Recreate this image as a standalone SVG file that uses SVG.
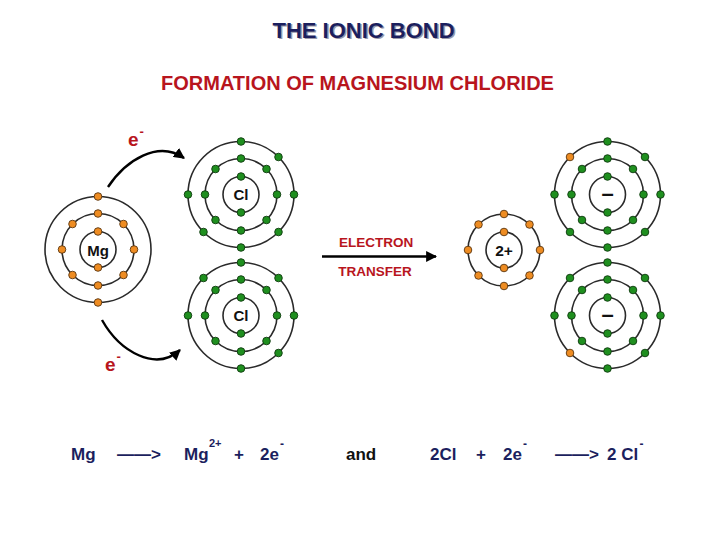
<svg xmlns="http://www.w3.org/2000/svg" xmlns:xlink="http://www.w3.org/1999/xlink" width="728" height="546" viewBox="0 0 728 546">
<style>
.orb{fill:none;stroke:#2a2a2a;stroke-width:1.6}
.g{fill:#1f8f1f;stroke:#0e3a0e;stroke-width:0.9}
.o{fill:#ee8c22;stroke:#5a3510;stroke-width:0.9}
.lbl{font-family:"Liberation Sans",Arial,sans-serif;font-weight:bold;fill:#111;text-anchor:middle}
.red{font-family:"Liberation Sans",Arial,sans-serif;font-weight:bold;fill:#b8151d}
.navy{font-family:"Liberation Sans",Arial,sans-serif;font-weight:bold;fill:#1c1f5e}
.blk{font-family:"Liberation Sans",Arial,sans-serif;font-weight:bold;fill:#111}
.conn{fill:none;stroke:#000;stroke-width:2.4}
</style>
<defs>
<marker id="ah" viewBox="0 0 10 10" refX="9" refY="5" markerWidth="11" markerHeight="11" markerUnits="userSpaceOnUse" orient="auto">
<path d="M0,0 L10,5 L0,10 Z" fill="#000"/>
</marker>
<circle id="eg" r="3.8" class="g"/>
<circle id="eo" r="3.8" class="o"/>
</defs>
<rect width="728" height="546" fill="#fff"/>

<!-- titles -->
<text x="365" y="39" font-size="22" text-anchor="middle" font-family="Liberation Sans, Arial, sans-serif" font-weight="bold" fill="#9a9aaa">THE IONIC BOND</text>
<text x="363.5" y="37.5" font-size="22" text-anchor="middle" class="navy">THE IONIC BOND</text>
<text x="357.5" y="90" font-size="20" text-anchor="middle" class="red">FORMATION OF MAGNESIUM CHLORIDE</text>

<!-- Mg atom -->
<g id="mg" transform="translate(98,249.5)">
<circle class="orb" r="18"/><circle class="orb" r="36"/><circle class="orb" r="53"/>
<text class="lbl" y="6" font-size="15">Mg</text>
<use xlink:href="#eo" x="0" y="-18"/><use xlink:href="#eo" x="0" y="18"/>
<use xlink:href="#eo" x="0" y="-36"/><use xlink:href="#eo" x="25.5" y="-25.5"/><use xlink:href="#eo" x="36" y="0"/><use xlink:href="#eo" x="25.5" y="25.5"/>
<use xlink:href="#eo" x="0" y="36"/><use xlink:href="#eo" x="-25.5" y="25.5"/><use xlink:href="#eo" x="-36" y="0"/><use xlink:href="#eo" x="-25.5" y="-25.5"/>
<use xlink:href="#eo" x="0" y="-53"/><use xlink:href="#eo" x="0" y="53"/>
</g>

<!-- Cl upper -->
<g id="cl1" transform="translate(241,194.5)">
<circle class="orb" r="18"/><circle class="orb" r="36"/><circle class="orb" r="53"/>
<text class="lbl" y="5.5" font-size="15">Cl</text>
<use xlink:href="#eg" x="0" y="-18"/><use xlink:href="#eg" x="0" y="18"/>
<use xlink:href="#eg" x="0" y="-36"/><use xlink:href="#eg" x="25.5" y="-25.5"/><use xlink:href="#eg" x="36" y="0"/><use xlink:href="#eg" x="25.5" y="25.5"/>
<use xlink:href="#eg" x="0" y="36"/><use xlink:href="#eg" x="-25.5" y="25.5"/><use xlink:href="#eg" x="-36" y="0"/><use xlink:href="#eg" x="-25.5" y="-25.5"/>
<use xlink:href="#eg" x="0" y="-53"/><use xlink:href="#eg" x="37.5" y="-37.5"/><use xlink:href="#eg" x="53" y="0"/><use xlink:href="#eg" x="37.5" y="37.5"/>
<use xlink:href="#eg" x="0" y="53"/><use xlink:href="#eg" x="-37.5" y="37.5"/><use xlink:href="#eg" x="-53" y="0"/>
</g>

<!-- Cl lower -->
<g id="cl2" transform="translate(241,315.5)">
<circle class="orb" r="18"/><circle class="orb" r="36"/><circle class="orb" r="53"/>
<text class="lbl" y="5.5" font-size="15">Cl</text>
<use xlink:href="#eg" x="0" y="-18"/><use xlink:href="#eg" x="0" y="18"/>
<use xlink:href="#eg" x="0" y="-36"/><use xlink:href="#eg" x="25.5" y="-25.5"/><use xlink:href="#eg" x="36" y="0"/><use xlink:href="#eg" x="25.5" y="25.5"/>
<use xlink:href="#eg" x="0" y="36"/><use xlink:href="#eg" x="-25.5" y="25.5"/><use xlink:href="#eg" x="-36" y="0"/><use xlink:href="#eg" x="-25.5" y="-25.5"/>
<use xlink:href="#eg" x="0" y="-53"/><use xlink:href="#eg" x="37.5" y="-37.5"/><use xlink:href="#eg" x="53" y="0"/><use xlink:href="#eg" x="37.5" y="37.5"/>
<use xlink:href="#eg" x="0" y="53"/><use xlink:href="#eg" x="-53" y="0"/><use xlink:href="#eg" x="-37.5" y="-37.5"/>
</g>

<!-- Mg 2+ ion -->
<g id="mg2" transform="translate(504,250)">
<circle class="orb" r="18"/><circle class="orb" r="36"/>
<text class="lbl" y="6" font-size="15.5">2+</text>
<use xlink:href="#eo" x="0" y="-18"/><use xlink:href="#eo" x="0" y="18"/>
<use xlink:href="#eo" x="0" y="-36"/><use xlink:href="#eo" x="25.5" y="-25.5"/><use xlink:href="#eo" x="36" y="0"/><use xlink:href="#eo" x="25.5" y="25.5"/>
<use xlink:href="#eo" x="0" y="36"/><use xlink:href="#eo" x="-25.5" y="25.5"/><use xlink:href="#eo" x="-36" y="0"/><use xlink:href="#eo" x="-25.5" y="-25.5"/>
</g>

<!-- Cl- upper -->
<g id="cln1" transform="translate(607.5,194.5)">
<circle class="orb" r="18"/><circle class="orb" r="36"/><circle class="orb" r="53"/>
<text class="lbl" y="6" font-size="22">–</text>
<use xlink:href="#eg" x="0" y="-18"/><use xlink:href="#eg" x="0" y="18"/>
<use xlink:href="#eg" x="0" y="-36"/><use xlink:href="#eg" x="25.5" y="-25.5"/><use xlink:href="#eg" x="36" y="0"/><use xlink:href="#eg" x="25.5" y="25.5"/>
<use xlink:href="#eg" x="0" y="36"/><use xlink:href="#eg" x="-25.5" y="25.5"/><use xlink:href="#eg" x="-36" y="0"/><use xlink:href="#eg" x="-25.5" y="-25.5"/>
<use xlink:href="#eg" x="0" y="-53"/><use xlink:href="#eg" x="37.5" y="-37.5"/><use xlink:href="#eg" x="53" y="0"/><use xlink:href="#eg" x="37.5" y="37.5"/>
<use xlink:href="#eg" x="0" y="53"/><use xlink:href="#eg" x="-37.5" y="37.5"/><use xlink:href="#eg" x="-53" y="0"/><use xlink:href="#eo" x="-37.5" y="-37.5"/>
</g>

<!-- Cl- lower -->
<g id="cln2" transform="translate(607.5,315.5)">
<circle class="orb" r="18"/><circle class="orb" r="36"/><circle class="orb" r="53"/>
<text class="lbl" y="6" font-size="22">–</text>
<use xlink:href="#eg" x="0" y="-18"/><use xlink:href="#eg" x="0" y="18"/>
<use xlink:href="#eg" x="0" y="-36"/><use xlink:href="#eg" x="25.5" y="-25.5"/><use xlink:href="#eg" x="36" y="0"/><use xlink:href="#eg" x="25.5" y="25.5"/>
<use xlink:href="#eg" x="0" y="36"/><use xlink:href="#eg" x="-25.5" y="25.5"/><use xlink:href="#eg" x="-36" y="0"/><use xlink:href="#eg" x="-25.5" y="-25.5"/>
<use xlink:href="#eg" x="0" y="-53"/><use xlink:href="#eg" x="37.5" y="-37.5"/><use xlink:href="#eg" x="53" y="0"/><use xlink:href="#eg" x="37.5" y="37.5"/>
<use xlink:href="#eg" x="0" y="53"/><use xlink:href="#eo" x="-37.5" y="37.5"/><use xlink:href="#eg" x="-53" y="0"/><use xlink:href="#eg" x="-37.5" y="-37.5"/>
</g>

<!-- connectors -->
<g id="connectors">
<path class="conn" d="M108,187 C126,160 158,140 184,158" marker-end="url(#ah)"/>
<path class="conn" d="M102,320 C120,352 156,372 180,350" marker-end="url(#ah)"/>
<path class="conn" d="M322,256.5 L436,256.5" marker-end="url(#ah)"/>
</g>

<!-- electron labels -->
<text class="red" x="128" y="146" font-size="19">e</text>
<text class="red" x="139.5" y="136" font-size="13">-</text>
<text class="red" x="105" y="371" font-size="19">e</text>
<text class="red" x="116.5" y="361" font-size="13">-</text>
<text class="red" x="376" y="246.5" font-size="13.5" text-anchor="middle">ELECTRON</text>
<text class="red" x="375" y="276" font-size="13.5" text-anchor="middle">TRANSFER</text>

<!-- equation -->
<g id="equation" font-size="17">
<text class="navy" x="71" y="460">Mg</text>
<text class="navy" x="117" y="460">——&gt;</text>
<text class="navy" x="184" y="460">Mg</text>
<text class="navy" x="209" y="447" font-size="11">2+</text>
<text class="navy" x="234" y="460">+</text>
<text class="navy" x="260" y="460">2e</text>
<text class="navy" x="280" y="448" font-size="12">-</text>
<text class="blk" x="346" y="460">and</text>
<text class="navy" x="430" y="460">2Cl</text>
<text class="navy" x="476" y="460">+</text>
<text class="navy" x="503" y="460">2e</text>
<text class="navy" x="523" y="448" font-size="12">-</text>
<text class="navy" x="555" y="460">——&gt;</text>
<text class="navy" x="607" y="460">2 Cl</text>
<text class="navy" x="639.5" y="448" font-size="12">-</text>
</g>
</svg>
